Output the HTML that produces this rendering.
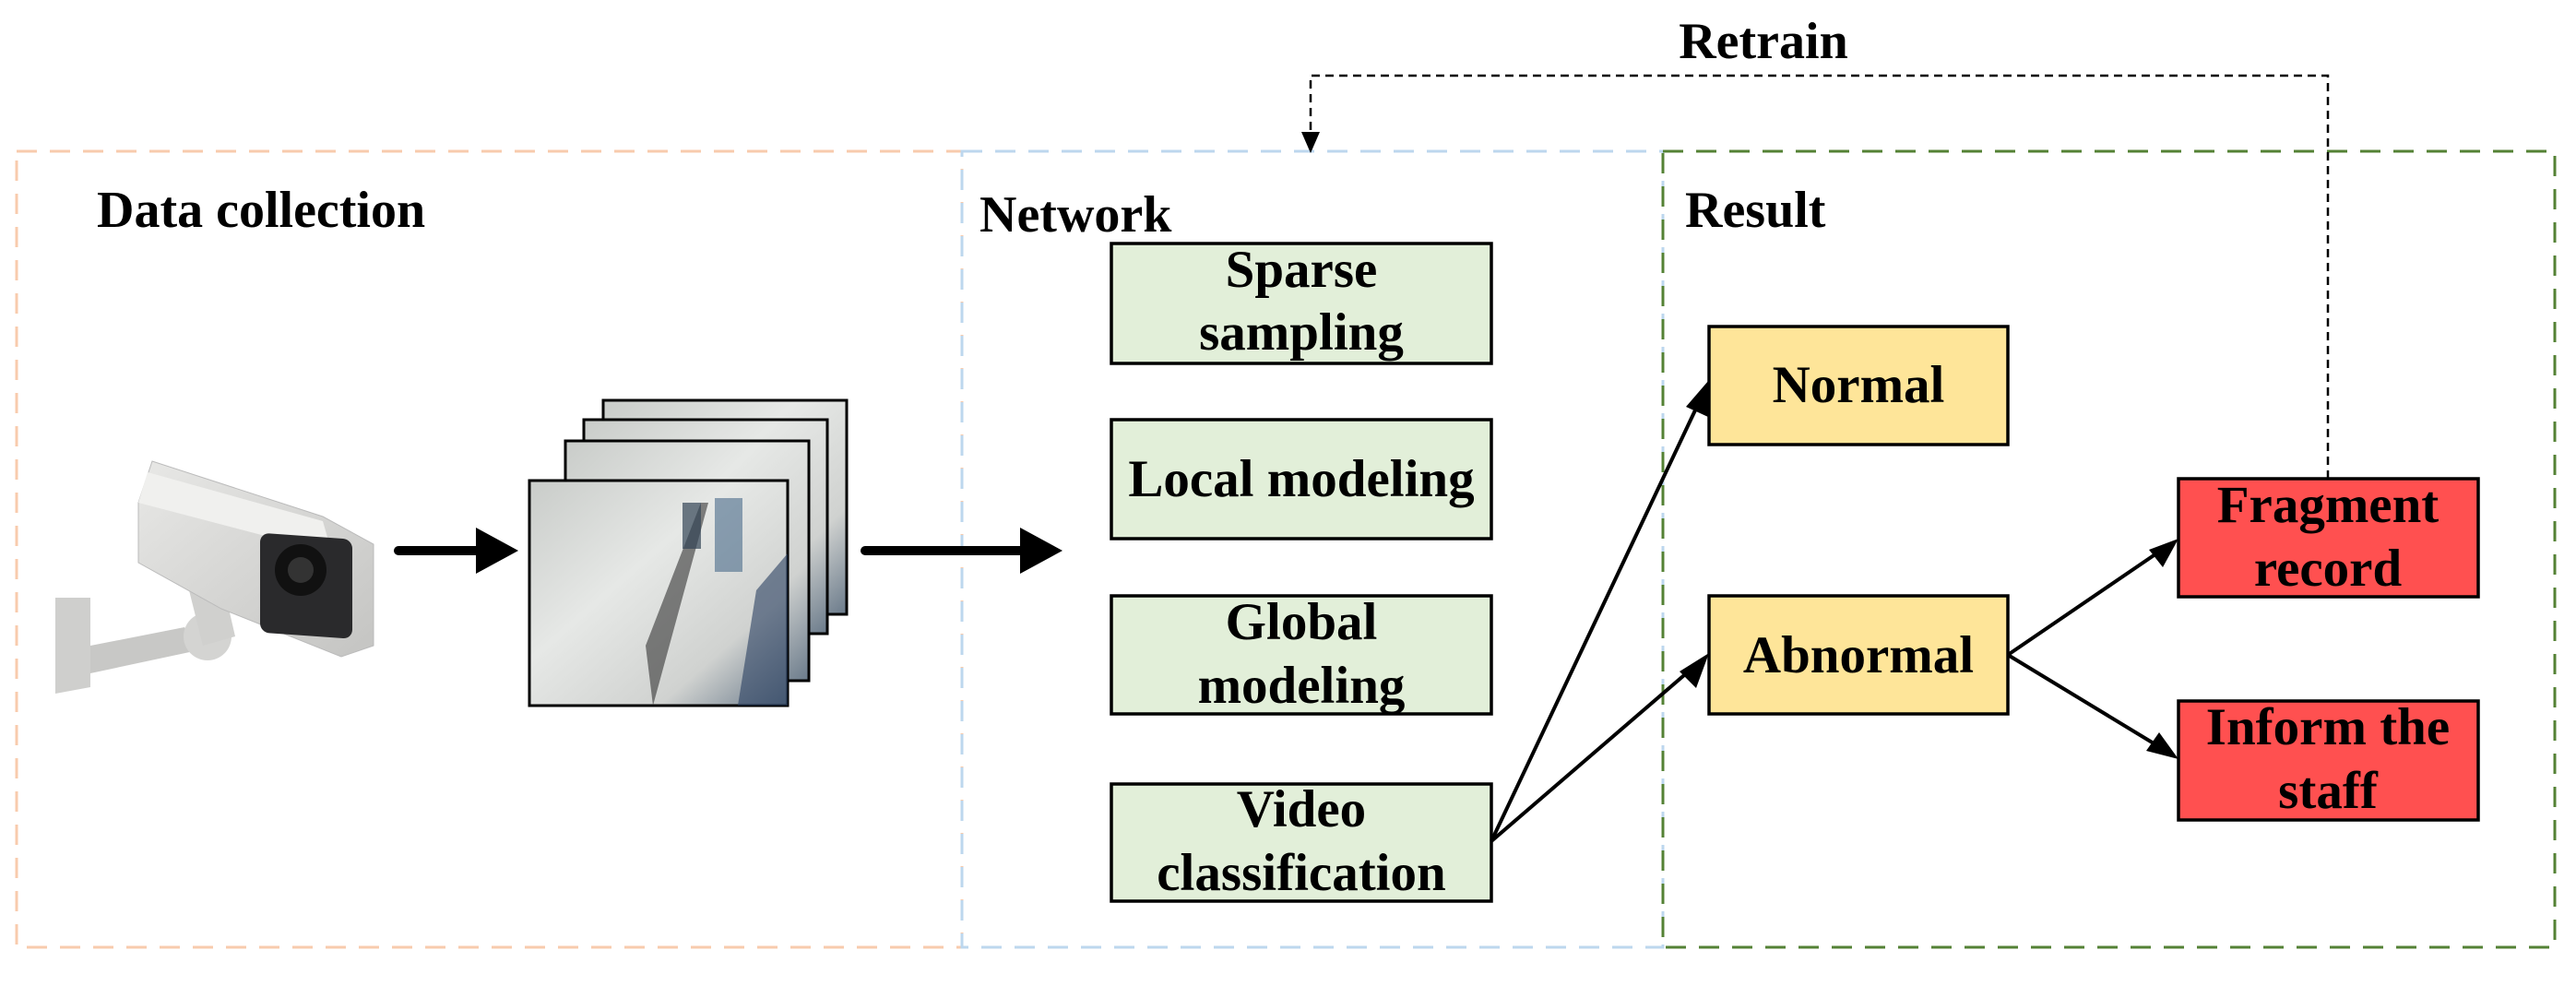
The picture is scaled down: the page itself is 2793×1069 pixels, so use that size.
<!DOCTYPE html>
<html><head><style>
html,body{margin:0;padding:0;background:#fff;}
svg{display:block;}
text{font-family:"Liberation Serif",serif;font-weight:bold;fill:#000;}
</style></head><body>
<svg width="2793" height="1069" viewBox="0 0 2793 1069" xmlns="http://www.w3.org/2000/svg">
<defs>
<linearGradient id="fr" x1="0" y1="0" x2="1" y2="1">
<stop offset="0" stop-color="#c9ccc9"/><stop offset="0.4" stop-color="#e6e8e6"/><stop offset="0.75" stop-color="#d0d2d0"/><stop offset="1" stop-color="#6a7a8a"/></linearGradient>
<linearGradient id="cam" x1="0" y1="0" x2="1" y2="1">
<stop offset="0" stop-color="#e8e8e6"/><stop offset="1" stop-color="#c4c4c2"/></linearGradient>
</defs>

<rect x="18" y="164" width="1025" height="863" fill="none" stroke="#f8cbad" stroke-width="3" stroke-dasharray="22,14"/>
<rect x="1043" y="164" width="760" height="863" fill="none" stroke="#bdd7ee" stroke-width="3" stroke-dasharray="22,14"/>
<rect x="1803" y="164" width="967" height="863" fill="none" stroke="#548235" stroke-width="3" stroke-dasharray="22,14"/>

<text x="105" y="246" font-size="56">Data collection</text>
<text x="1062" y="251" font-size="56">Network</text>
<text x="1827" y="246" font-size="56">Result</text>
<text x="1912" y="63" font-size="56" text-anchor="middle">Retrain</text>

<path d="M2524,519 L2524,82 L1421,82 L1421,150" fill="none" stroke="#000" stroke-width="2.5" stroke-dasharray="9,6"/>
<path d="M1411,143 L1431,143 L1421,166 z" fill="#000"/>

<g>
<path d="M60,648 L98,648 L98,745 L60,752 z" fill="#cfcfcd"/>
<path d="M98,700 L200,680 L215,705 L98,730 z" fill="#c8c8c6"/>
<circle cx="225" cy="690" r="26" fill="#d4d4d2"/>
<path d="M205,640 L240,625 L255,690 L220,700 z" fill="#d0d0ce"/>
<path d="M150,545 L165,500 L350,560 L405,590 L405,700 L370,712 L240,660 L150,610 z" fill="url(#cam)" stroke="#bbb" stroke-width="1"/>
<path d="M150,545 L160,512 L350,565 L360,600 z" fill="#f0f0ee"/>
<rect x="282" y="580" width="100" height="108" rx="10" fill="#2a2a2c" transform="skewY(4) translate(0,-22)"/>
<circle cx="326" cy="618" r="28" fill="#111"/>
<circle cx="326" cy="618" r="14" fill="#333"/>
</g>

<line x1="432" y1="597" x2="520" y2="597" stroke="#000" stroke-width="10" stroke-linecap="round"/>
<path d="M516,572 L562,597 L516,622 z" fill="#000"/>

<g>
<rect x="654" y="434" width="264" height="232" fill="url(#fr)" stroke="#000" stroke-width="3"/>
<rect x="633" y="455" width="264" height="232" fill="url(#fr)" stroke="#000" stroke-width="3"/>
<rect x="613" y="478" width="264" height="260" fill="url(#fr)" stroke="#000" stroke-width="3"/>
<rect x="574" y="521" width="280" height="244" fill="url(#fr)" stroke="#000" stroke-width="3"/>
<path d="M700,700 L760,545 L768,545 L708,765 z" fill="#333" opacity="0.6"/>
<rect x="740" y="545" width="20" height="50" fill="#345" opacity="0.7"/>
<rect x="775" y="540" width="30" height="80" fill="#4a6a8a" opacity="0.6"/>
<path d="M820,640 L854,600 L854,765 L800,765 z" fill="#2a4060" opacity="0.6"/>
</g>

<line x1="938" y1="597" x2="1110" y2="597" stroke="#000" stroke-width="10" stroke-linecap="round"/>
<path d="M1106,572 L1152,597 L1106,622 z" fill="#000"/>

<g fill="#e2efd9" stroke="#000" stroke-width="3.5">
<rect x="1205" y="264" width="412" height="130"/>
<rect x="1205" y="455" width="412" height="129"/>
<rect x="1205" y="646" width="412" height="128"/>
<rect x="1205" y="850" width="412" height="127"/>
</g>
<g font-size="57" text-anchor="middle">
<text x="1411" y="311">Sparse</text>
<text x="1411" y="379">sampling</text>
<text x="1411" y="538">Local modeling</text>
<text x="1411" y="693">Global</text>
<text x="1411" y="762">modeling</text>
<text x="1411" y="896">Video</text>
<text x="1411" y="965">classification</text>
</g>

<g stroke="#000" stroke-width="3.5">
<rect x="1853" y="354" width="324" height="128" fill="#fee599"/>
<rect x="1853" y="646" width="324" height="128" fill="#fee599"/>
<rect x="2362" y="519" width="325" height="128" fill="#ff5050"/>
<rect x="2362" y="760" width="325" height="129" fill="#ff5050"/>
</g>
<g font-size="57" text-anchor="middle">
<text x="2015" y="436">Normal</text>
<text x="2015" y="729">Abnormal</text>
<text x="2524" y="566">Fragment</text>
<text x="2524" y="635">record</text>
<text x="2524" y="807">Inform the</text>
<text x="2524" y="876">staff</text>
</g>

<g stroke="#000" stroke-width="4" fill="none">
<line x1="1617" y1="912" x2="1845" y2="430"/>
<line x1="1617" y1="912" x2="1840" y2="720"/>
<line x1="2177" y1="710" x2="2350" y2="592"/>
<line x1="2177" y1="710" x2="2350" y2="815"/>
</g>
<g fill="#000">
<path d="M1853,412 L1852,452 L1828,441 z"/>
<path d="M1853,708 L1839,746 L1821,728 z"/>
<path d="M2362,584 L2345,615 L2330,596 z"/>
<path d="M2362,823 L2327,814 L2341,794 z"/>
</g>
</svg>
</body></html>
